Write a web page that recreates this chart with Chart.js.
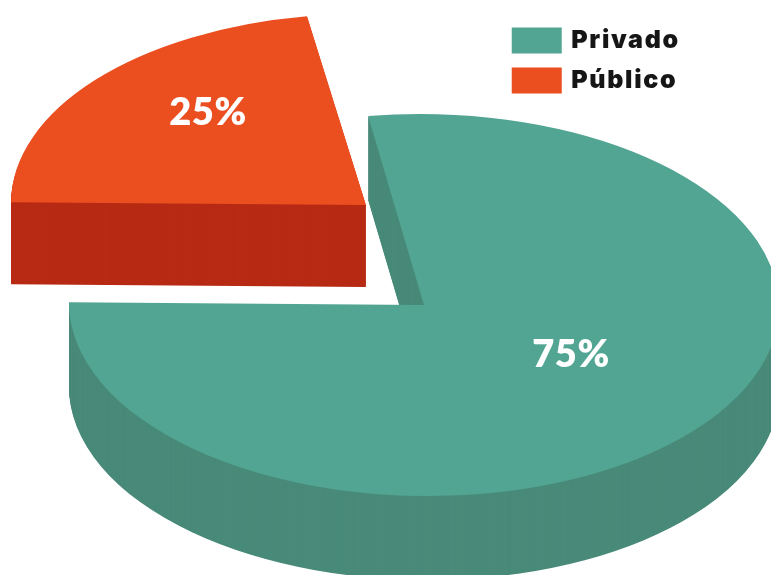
<!DOCTYPE html>
<html>
<head>
<meta charset="utf-8">
<style>
  html, body { margin: 0; padding: 0; background: #fff; overflow: hidden; }
  canvas { display: block; }
</style>
</head>
<body>
<canvas id="chart" width="771" height="575"></canvas>
<script src="https://cdn.jsdelivr.net/npm/chart.js@4"></script>
<script>
const categories = ["Privado", "Público"];
const shares = [75, 25];

const topColors = ["#52A592", "#EB4E1F"];
const sideColors = ["#498A79", "#B72A14"];

// where each slice of the tilted pie sits on the page
// lean: the picture's top cut sits left of 12 o'clock
const faces = [
    { x: 424, y: 305, depth: 84, lean: 9.3, textX: 571, textY: 355 },
    { x: 366, y: 205, depth: 82, lean: 9.8, textX: 208, textY: 113 }
];
const radiusX = 355;
const radiusY = 191;
const tilt = 0.45 * Math.PI / 180;

function drawTilted(ctx, arc, face, drop, color) {
    const saved = arc.options.backgroundColor;
    arc.options.backgroundColor = color;
    ctx.save();
    ctx.translate(face.x, face.y + drop);
    ctx.rotate(tilt);
    ctx.scale(radiusX / arc.outerRadius, radiusY / arc.outerRadius);
    ctx.translate(-arc.x, -arc.y);
    arc.draw(ctx);
    ctx.restore();
    arc.options.backgroundColor = saved;
}

const tiltedPie = {
    id: "tiltedPie",
    beforeDraw(chart) {
        // legend text in the picture is widely spaced
        chart.ctx.letterSpacing = "1.7px";
    },
    beforeDatasetDraw(chart) {
        const ctx = chart.ctx;
        const arcs = chart.getDatasetMeta(0).data;
        if (!arcs[0].leaned) {
            arcs[0].startAngle -= faces[0].lean * Math.PI / 180;
            arcs[1].endAngle -= faces[1].lean * Math.PI / 180;
            arcs[0].leaned = true;
        }
        arcs.forEach((arc, i) => {
            for (let drop = faces[i].depth; drop > 0; drop--) {
                drawTilted(ctx, arc, faces[i], drop, sideColors[i]);
            }
            drawTilted(ctx, arc, faces[i], 0, topColors[i]);
        });
        ctx.save();
        ctx.letterSpacing = "0.5px";
        ctx.fillStyle = "#fff";
        ctx.font = "800 38px Lato";
        ctx.textAlign = "center";
        ctx.textBaseline = "middle";
        arcs.forEach((arc, i) => {
            ctx.fillText(shares[i] + "%", faces[i].textX, faces[i].textY);
        });
        ctx.restore();
        return false;
    }
};

new Chart(document.getElementById("chart"), {
    type: "pie",
    data: {
        labels: categories,
        datasets: [{ data: shares, backgroundColor: topColors, borderWidth: 0 }]
    },
    options: {
        responsive: false,
        animation: false,
        layout: { padding: { top: 13, right: 93 } },
        plugins: {
            tooltip: { enabled: false },
            legend: {
                position: "right",
                align: "start",
                labels: {
                    // thick same-colour outline keeps the text close to the swatch
                    generateLabels(chart) {
                        return Chart.overrides.pie.plugins.legend.labels.generateLabels(chart)
                            .map(item => ({ ...item, lineWidth: 6, strokeStyle: item.fillStyle }));
                    },
                    boxWidth: 44,
                    boxHeight: 20,
                    padding: 15,
                    color: "#161616",
                    font: { family: "Inter", size: 25, weight: "900" }
                }
            }
        }
    },
    plugins: [tiltedPie]
});
</script>
</body>
</html>
